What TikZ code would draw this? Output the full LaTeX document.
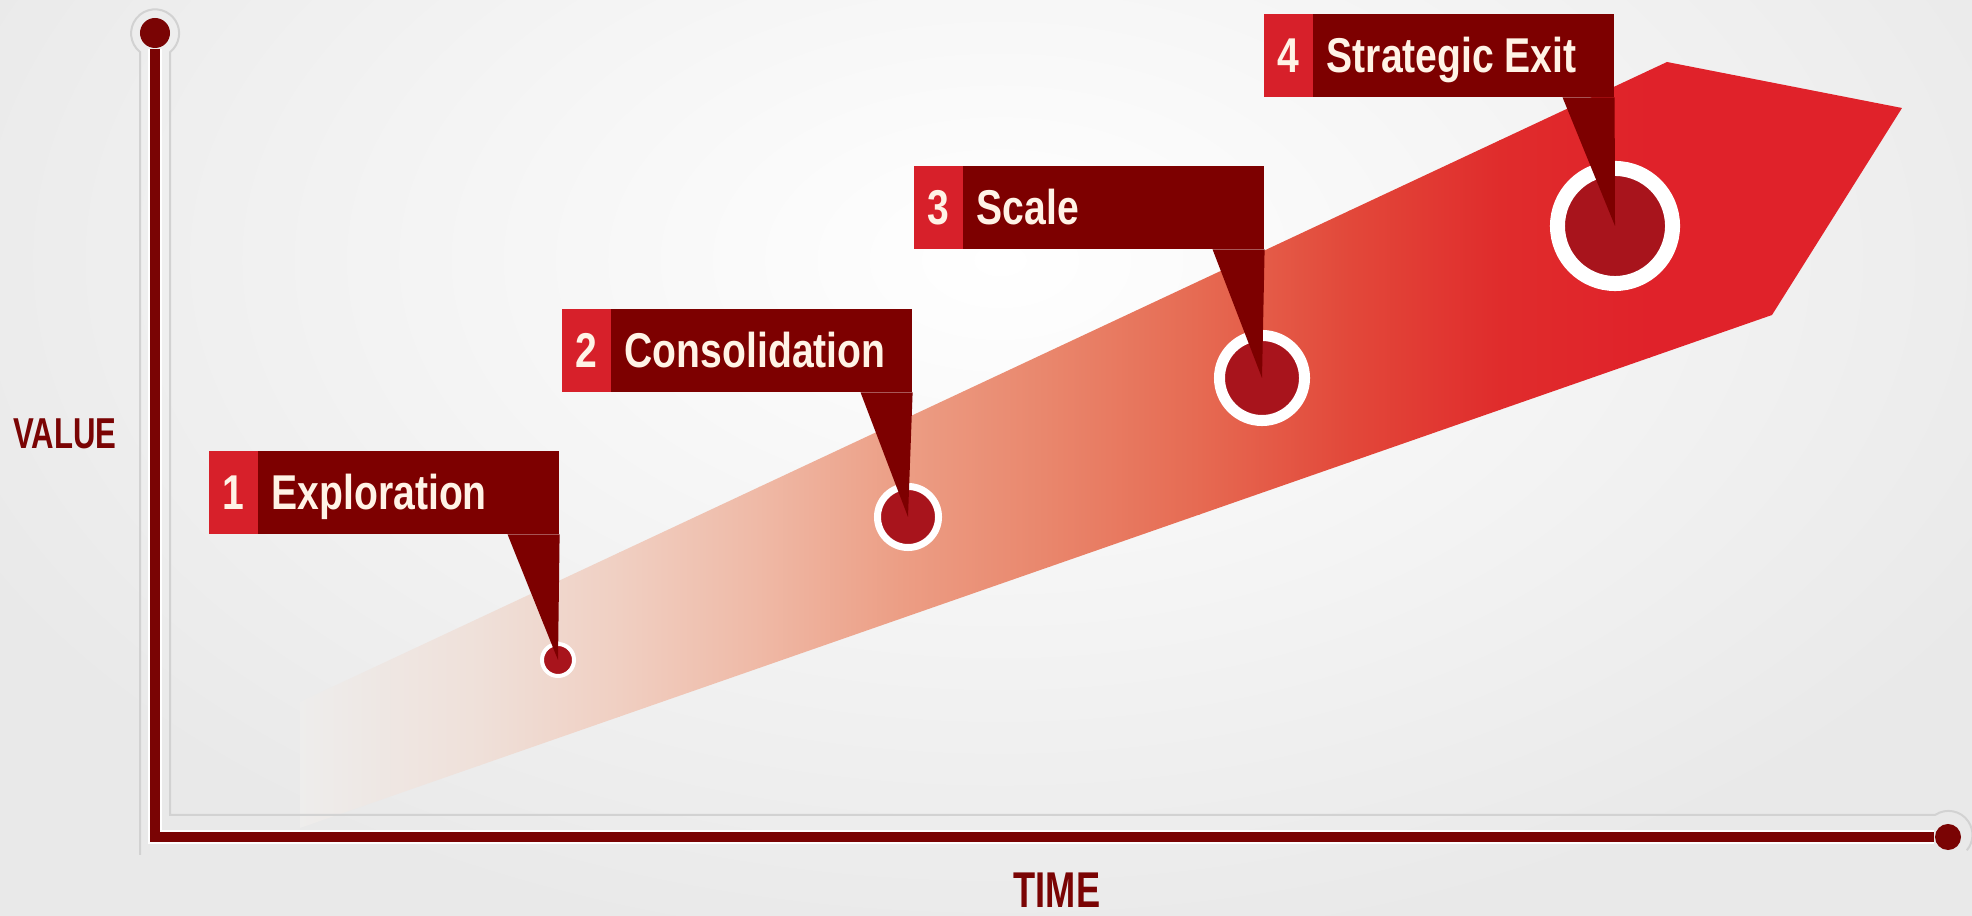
\documentclass[tikz,border=0pt]{standalone}
\usepackage{fontspec}
\setmainfont{Liberation Sans}
\newfontfamily\labelfont[FakeStretch=0.8]{Liberation Sans}
\newfontfamily\axisfont[FakeStretch=0.72]{Liberation Sans}
\usetikzlibrary{positioning}

\definecolor{bggray}{RGB}{233,233,233}
\definecolor{axisred}{RGB}{122,4,4}
\definecolor{boxdark}{RGB}{125,0,0}
\definecolor{boxred}{RGB}{215,32,42}
\definecolor{dotred}{RGB}{168,20,28}
\definecolor{cream}{RGB}{255,243,230}
\definecolor{groovegray}{RGB}{210,210,210}
% colours along the band, left to right
\definecolor{bandA}{RGB}{238,237,236}
\definecolor{bandB}{RGB}{239,224,217}
\definecolor{bandC}{RGB}{240,207,194}
\definecolor{bandD}{RGB}{239,185,166}
\definecolor{bandE}{RGB}{236,158,133}
\definecolor{bandF}{RGB}{233,134,108}
\definecolor{bandG}{RGB}{230,106,82}
\definecolor{bandH}{RGB}{226,72,58}
\definecolor{bandI}{RGB}{224,44,44}
\definecolor{bandJ}{RGB}{224,34,42}

\newcommand{\stagefont}{\labelfont\bfseries\fontsize{13.9pt}{16pt}\selectfont}

\begin{document}
\begin{tikzpicture}[x=0.01cm, y=-0.01cm,
  labelbox/.style={fill=boxdark, minimum width=3.5cm, minimum height=0.83cm, inner sep=0pt, anchor=north west},
  numbox/.style={fill=boxred, text=cream, font=\stagefont, minimum width=0.49cm, minimum height=0.83cm, inner sep=0pt, anchor=south west},
  stagetext/.style={text=cream, font=\stagefont, inner sep=0pt, anchor=base west},
  stagedot/.style={circle, fill=dotred, draw=white, inner sep=0pt},
  axisend/.style={circle, fill=axisred, inner sep=0pt},
  axistitle/.style={text=axisred, inner sep=0pt}]
\useasboundingbox (0,0) rectangle (1972,916);

% backdrop, lighter in the middle
\fill[bggray] (0,0) rectangle (1972,916);
\begin{scope}
\clip (0,0) rectangle (1972,916);
\shade[inner color=white, outer color=bggray] (1000,260) ellipse (1150 and 700);
\end{scope}

% rising band, fading in from the left
\begin{scope}
\clip (300,828) -- (300,702) -- (1667,62) -- (1902,108) -- (1772,315) -- cycle;
\foreach \xa/\xb/\ca/\cb in {300/480/bandA/bandB, 480/620/bandB/bandC, 620/760/bandC/bandD,
    760/900/bandD/bandE, 900/1050/bandE/bandF, 1050/1200/bandF/bandG, 1200/1350/bandG/bandH,
    1350/1500/bandH/bandI, 1500/1650/bandI/bandJ, 1650/1910/bandJ/bandJ}
  \shade[left color=\ca, right color=\cb] (\xa-1,0) rectangle (\xb,916);
\end{scope}

% axes with their groove
\draw[groovegray, line width=0.02cm] (140,855) -- (140,52) arc[start angle=129, end angle=411, radius=24]
  -- (170,815) -- (1935,815) arc[start angle=236, end angle=400, radius=24];
\node[axisend, minimum size=0.30cm] (vtop) at (155,33) {};
\node[axisend, minimum size=0.26cm] (hend) at (1948,837) {};
\coordinate (origin) at (155,837);
\draw[white, line width=0.14cm] (vtop) -- (origin) -- (hend);
\draw[axisred, line width=0.09cm] (vtop) -- (origin) -- (hend);
\node[axistitle, font=\axisfont\bfseries\fontsize{12.3pt}{14pt}\selectfont] (value) at (65,434) {VALUE};
\node[axistitle, font=\axisfont\bfseries\fontsize{14.3pt}{16pt}\selectfont] (time) at (1057,890) {TIME};

% stages: box, number, caption, dot and pointer
\foreach \n/\bx/\by/\dx/\dy/\ds/\dw/\txt in {
    1/208/450/558/660/0.32/0.04/Exploration,
    2/561/308/908/517/0.61/0.07/Consolidation,
    3/913/165/1262/378/0.85/0.11/Scale,
    4/1263/13/1615/226/1.15/0.15/Strategic Exit}{
  \node[labelbox] (box\n) at (\bx,\by) {};
  \node[numbox] (num\n) at (box\n.south west) {\n};
  \node[stagetext] (txt\n) at ([xshift=0.63cm, yshift=0.25cm]box\n.south west) {\txt};
  \node[stagedot, minimum size=\ds cm, line width=\dw cm] (dot\n) at (\dx,\dy) {};
  \fill[boxdark] ([xshift=-0.52cm]box\n.south east) -- (box\n.south east) -- (dot\n.center) -- cycle;
}
\end{tikzpicture}
\end{document}
